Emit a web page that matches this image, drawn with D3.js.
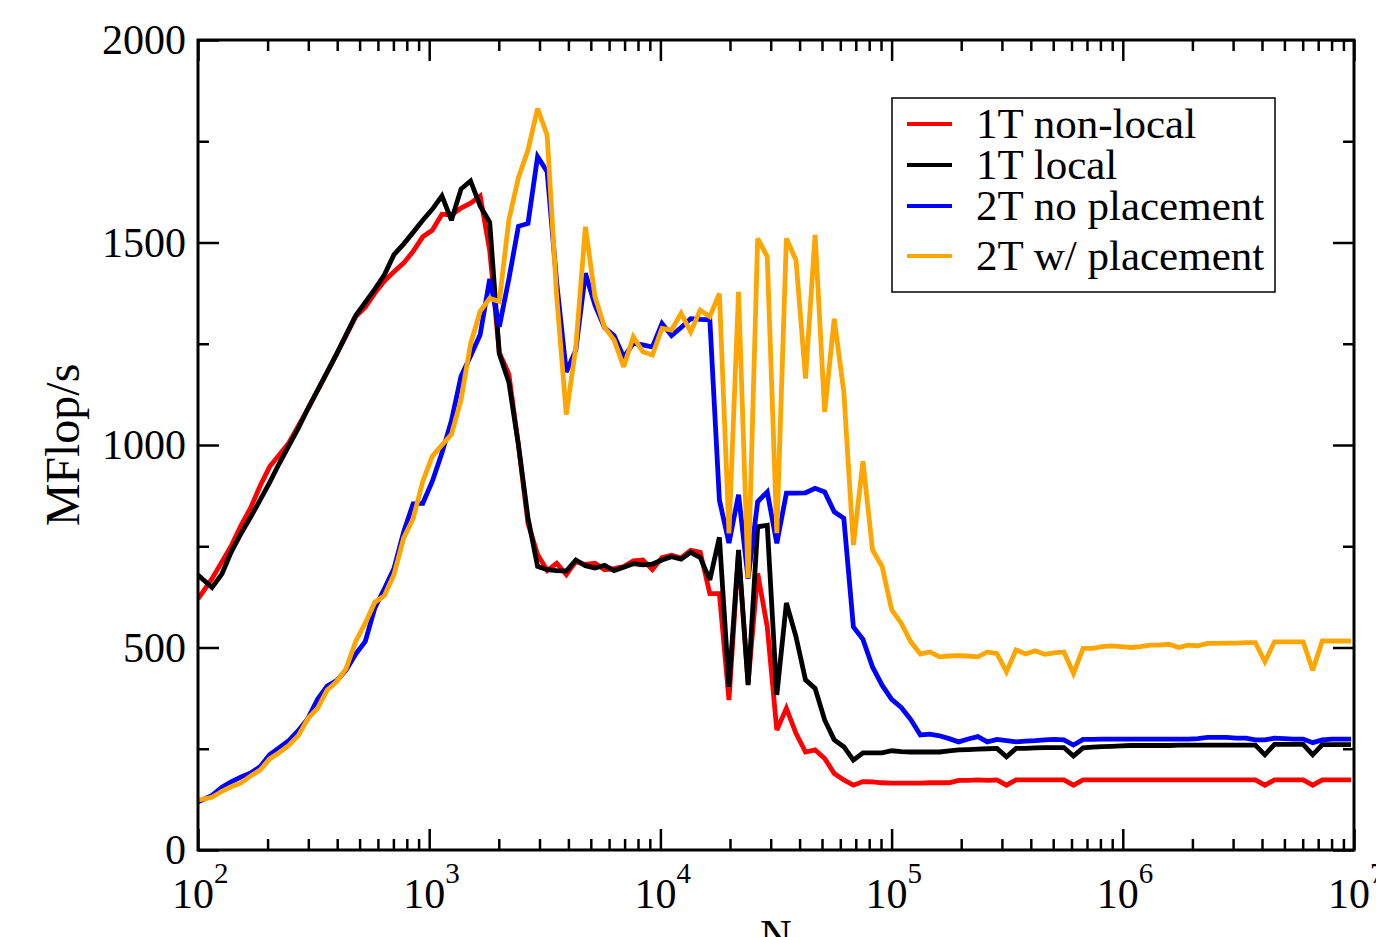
<!DOCTYPE html>
<html>
<head>
<meta charset="utf-8">
<script src="https://cdn.jsdelivr.net/npm/d3@7/dist/d3.min.js"></script>
<style>
  html, body { margin: 0; padding: 0; background: #fff; }
  svg { display: block; }
  text { font-family: "Liberation Serif", "DejaVu Serif", serif; fill: #000; }
</style>
</head>
<body>
<svg id="chart" width="1376" height="937"></svg>
<script>
// ---------------- data ----------------
const N = [100, 115, 127, 139, 153, 169, 186, 204, 224, 247, 272, 299, 329, 362, 398, 437, 481, 529, 582, 640,
  704, 775, 852, 938, 1031, 1135, 1248, 1373, 1510, 1661, 1827, 2010, 2211, 2432, 2675, 2943, 3237, 3561, 3917, 4308,
  4739, 5213, 5734, 6308, 6939, 7632, 8396, 9235, 10159, 11175, 12292, 13521, 14873, 16361, 17997, 19796, 21776, 23954, 26349, 28984,
  31882, 35070, 38577, 42435, 46679, 51346, 56481, 62129, 68342, 75176, 82694, 90963, 100060, 110066, 121072, 133179, 146497, 161147, 177262, 194988,
  214487, 235935, 259529, 285482, 314030, 345433, 379976, 417974, 459771, 505748, 556323, 611955, 673151, 740466, 814512, 895964, 985560, 1084116, 1192527, 1311780,
  1442958, 1587254, 1745979, 1920577, 2112635, 2323898, 2556288, 2811917, 3093109, 3402420, 3742662, 4116928, 4528621, 4981483, 5479631, 6027594, 6630354, 7293389, 8022728, 8825001,
  9707501];

const nonLocal1T = [620, 670, 712, 750, 800, 845, 900, 946, 975, 1005, 1048, 1090, 1135, 1180, 1225, 1270, 1317, 1340, 1375, 1405,
  1428, 1449, 1478, 1514, 1530, 1570, 1568, 1585, 1597, 1615, 1480, 1228, 1175, 1000, 806, 730, 690, 708, 680, 712,
  705, 708, 692, 695, 700, 714, 716, 692, 722, 728, 721, 740, 735, 633, 633, 370, 733, 411, 683, 551,
  296, 350, 288, 242, 247, 226, 189, 173, 160, 169, 168, 166, 165, 165, 165, 165, 166, 166, 166, 172,
  172, 173, 172, 173, 160, 173, 173, 173, 173, 173, 173, 160, 173, 173, 173, 173, 173, 173, 173, 173,
  173, 173, 173, 173, 173, 173, 173, 173, 173, 173, 173, 160, 173, 173, 173, 173, 160, 173, 173, 173,
  173];

const local1T = [679, 648, 682, 735, 780, 822, 865, 907, 953, 998, 1042, 1090, 1135, 1180, 1225, 1272, 1320, 1352, 1385, 1420,
  1470, 1496, 1525, 1555, 1582, 1615, 1555, 1632, 1652, 1590, 1550, 1225, 1155, 1000, 820, 700, 692, 690, 689, 716,
  702, 696, 703, 690, 698, 707, 704, 706, 716, 724, 718, 735, 722, 667, 772, 403, 741, 407, 798, 802,
  383, 610, 527, 420, 399, 321, 272, 255, 222, 240, 240, 240, 245, 243, 242, 242, 242, 242, 245, 247,
  248, 249, 250, 251, 230, 251, 251, 252, 253, 253, 253, 232, 252, 254, 255, 256, 257, 258, 258, 258,
  258, 258, 259, 259, 259, 259, 259, 259, 259, 259, 259, 235, 261, 261, 261, 261, 235, 260, 260, 260,
  260];

const noPlacement2T = [119, 135, 155, 168, 180, 190, 206, 235, 252, 270, 295, 325, 372, 405, 418, 444, 484, 515, 598, 645,
  695, 785, 855, 856, 910, 980, 1060, 1170, 1220, 1272, 1410, 1292, 1410, 1540, 1547, 1712, 1675, 1400, 1180, 1235,
  1424, 1345, 1290, 1270, 1217, 1251, 1247, 1242, 1300, 1270, 1290, 1312, 1310, 1309, 864, 758, 877, 670, 860, 884,
  757, 881, 881, 882, 893, 884, 835, 819, 551, 520, 452, 407, 372, 352, 322, 284, 286, 282, 275, 267,
  274, 280, 267, 273, 270, 267, 269, 270, 272, 273, 272, 259, 273, 273, 274, 274, 274, 274, 274, 274,
  274, 274, 274, 274, 275, 278, 278, 278, 276, 276, 272, 272, 276, 275, 274, 274, 265, 272, 274, 274,
  274];

const withPlacement2T = [123, 130, 145, 156, 165, 183, 198, 225, 240, 258, 283, 325, 350, 395, 416, 448, 515, 560, 612, 628,
  680, 770, 818, 910, 972, 1000, 1026, 1112, 1250, 1330, 1362, 1354, 1556, 1660, 1728, 1831, 1765, 1366, 1075, 1242,
  1539, 1366, 1291, 1259, 1193, 1267, 1230, 1222, 1288, 1284, 1325, 1279, 1333, 1317, 1374, 782, 1378, 671, 1510, 1465,
  782, 1510, 1457, 1164, 1519, 1082, 1312, 1131, 753, 960, 741, 700, 593, 560, 514, 484, 489, 477, 479, 480,
  479, 477, 489, 485, 440, 494, 484, 492, 483, 487, 489, 436, 498, 498, 502, 504, 502, 500, 502, 506,
  506, 508, 500, 506, 504, 510, 510, 511, 511, 512, 512, 465, 514, 514, 514, 514, 444, 516, 516, 516,
  516];

const seriesNames = ["1T non-local", "1T local", "2T no placement", "2T w/ placement"];
const seriesColors = ["#ff0000", "#000000", "#0000ff", "#ffa500"];
const seriesValues = [nonLocal1T, local1T, noPlacement2T, withPlacement2T];

const xMajorTicks = [1e2, 1e3, 1e4, 1e5, 1e6, 1e7];
const xTickExponents = ["2", "3", "4", "5", "6", "7"];
const yMajorTicks = [0, 500, 1000, 1500, 2000];
const yMinorTicks = [250, 750, 1250, 1750];
const yLabel = "MFlop/s";
const xLabel = "N";

// ---------------- layout ----------------
const L = 198, R = 1354, T = 40, B = 850;
const svg = d3.select("#chart");
const x = d3.scaleLog().domain([1e2, 1e7]).range([L, R]);
const y = d3.scaleLinear().domain([0, 2000]).range([B, T]);

const xMinor = [];
for (let e = 2; e < 7; e++) for (let m = 2; m <= 9; m++) xMinor.push(m * Math.pow(10, e));

svg.append("defs").append("clipPath").attr("id", "plotclip")
  .append("rect").attr("x", L).attr("y", T).attr("width", R - L).attr("height", B - T);

// series lines
const line = d3.line().x((d, i) => x(N[i])).y(d => y(d));
const lines = svg.append("g").attr("clip-path", "url(#plotclip)");
seriesValues.forEach((vals, s) => {
  lines.append("path").datum(vals)
    .attr("d", line)
    .attr("fill", "none")
    .attr("stroke", seriesColors[s])
    .attr("stroke-width", 4.8)
    .attr("stroke-linejoin", "miter")
    .attr("stroke-miterlimit", 3);
});

// axes with inward ticks on all sides
function styleAxis(g) {
  g.select(".domain").remove();
  g.selectAll(".tick line").attr("stroke", "#000").attr("stroke-width", 2.5);
  g.selectAll(".tick text").remove();
}
svg.append("g").attr("transform", `translate(0,${B})`)
  .call(d3.axisBottom(x).tickValues(xMajorTicks).tickSize(-21).tickFormat("")).call(styleAxis);
svg.append("g").attr("transform", `translate(0,${B})`)
  .call(d3.axisBottom(x).tickValues(xMinor).tickSize(-11).tickFormat("")).call(styleAxis);
svg.append("g").attr("transform", `translate(0,${T})`)
  .call(d3.axisTop(x).tickValues(xMajorTicks).tickSize(-21).tickFormat("")).call(styleAxis);
svg.append("g").attr("transform", `translate(0,${T})`)
  .call(d3.axisTop(x).tickValues(xMinor).tickSize(-11).tickFormat("")).call(styleAxis);
svg.append("g").attr("transform", `translate(${L},0)`)
  .call(d3.axisLeft(y).tickValues(yMajorTicks).tickSize(-21).tickFormat("")).call(styleAxis);
svg.append("g").attr("transform", `translate(${L},0)`)
  .call(d3.axisLeft(y).tickValues(yMinorTicks).tickSize(-11).tickFormat("")).call(styleAxis);
svg.append("g").attr("transform", `translate(${R},0)`)
  .call(d3.axisRight(y).tickValues(yMajorTicks).tickSize(-21).tickFormat("")).call(styleAxis);
svg.append("g").attr("transform", `translate(${R},0)`)
  .call(d3.axisRight(y).tickValues(yMinorTicks).tickSize(-11).tickFormat("")).call(styleAxis);

// frame
svg.append("rect").attr("x", L).attr("y", T).attr("width", R - L).attr("height", B - T)
  .attr("fill", "none").attr("stroke", "#000").attr("stroke-width", 3);

// y tick labels
svg.append("g").selectAll("text").data(yMajorTicks).join("text")
  .attr("x", L - 12).attr("y", d => y(d)).attr("dy", "0.34em")
  .attr("text-anchor", "end").attr("font-size", 42).text(d => d);

// x tick labels (10 with superscript)
const xl = svg.append("g").selectAll("text").data(xMajorTicks).join("text")
  .attr("x", d => x(d) - 26).attr("y", 908).attr("font-size", 42);
xl.append("tspan").text("10");
xl.append("tspan").attr("dy", -25).attr("font-size", 29).text((d, i) => xTickExponents[i]);

// axis titles
svg.append("text").attr("transform", "translate(79,445) rotate(-90)")
  .attr("text-anchor", "middle").attr("font-size", 48).text(yLabel);
svg.append("text").attr("x", 776).attr("y", 950)
  .attr("text-anchor", "middle").attr("font-size", 44).text(xLabel);

// legend
const lg = svg.append("g");
lg.append("rect").attr("x", 892).attr("y", 98).attr("width", 383).attr("height", 194)
  .attr("fill", "#fff").attr("stroke", "#000").attr("stroke-width", 1.5);
const legendBase = [138, 179, 220, 270];
seriesNames.forEach((name, i) => {
  lg.append("line").attr("x1", 907).attr("x2", 952)
    .attr("y1", legendBase[i] - 14).attr("y2", legendBase[i] - 14)
    .attr("stroke", seriesColors[i]).attr("stroke-width", 4);
  lg.append("text").attr("x", 976).attr("y", legendBase[i]).attr("font-size", 43).text(name);
});
</script>
</body>
</html>
